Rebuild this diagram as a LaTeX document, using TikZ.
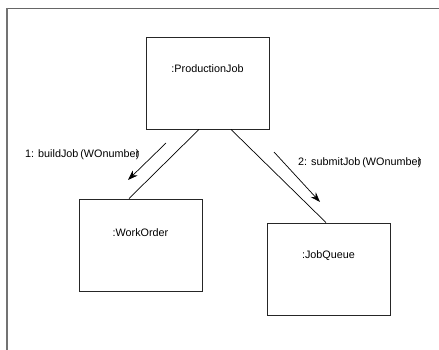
\documentclass[tikz,border=0pt]{standalone}
\usepackage{fontspec}
\setmainfont{Liberation Sans}
\usetikzlibrary{arrows.meta}

\begin{document}
\begin{tikzpicture}[x=1pt,y=-1pt]
\tikzstyle{obj}=[draw=black!85,line width=0.9pt,minimum width=123pt,minimum height=92pt,inner sep=0pt]
\tikzstyle{txt}=[font=\fontsize{10.8}{12}\selectfont,inner sep=0pt]
\tikzstyle{link}=[black,line width=0.7pt]
\tikzstyle{msg}=[black,line width=0.7pt,-{Stealth[length=10pt,width=7pt]}]
\useasboundingbox (0,0) rectangle (439,350);
% frame
\draw [black!60,line width=0.9pt] (6,8) -- (439,8);
\draw [black!55,line width=1.8pt] (7,8) -- (7,350);
% objects
\node [obj] (pj) at (207.5,83) {};
\node [txt] (pjname) at ([yshift=-32pt]pj.north) {:ProductionJob};
\node [obj] (wo) at (140.5,245) {};
\node [txt] (woname) at ([yshift=-34pt]wo.north) {:WorkOrder};
\node [obj] (jq) at (328.5,269) {};
\node [txt] (jqname) at ([yshift=-33pt]jq.north) {:JobQueue};
% links
\draw [link] ([xshift=-8.5pt]pj.south) -- ([xshift=-11.5pt]wo.north);
\draw [link] ([xshift=23.5pt]pj.south) -- ([xshift=-2.5pt]jq.north);
% messages
\coordinate (m1a) at (166,143);
\coordinate (m1b) at (128,180);
\draw [msg] (m1a) -- (m1b);
\node [txt,anchor=west] (m1) at (25,155) {1: buildJob\kern-0.1em\ (WOnumber\kern-0.3em)};
\coordinate (m2a) at (274,152);
\coordinate (m2b) at (320,202);
\draw [msg] (m2a) -- (m2b);
\node [txt,anchor=west] (m2) at (298,163) {2: submitJob\kern-0.1em\ (WOnumber\kern-0.3em)};
\end{tikzpicture}
\end{document}
